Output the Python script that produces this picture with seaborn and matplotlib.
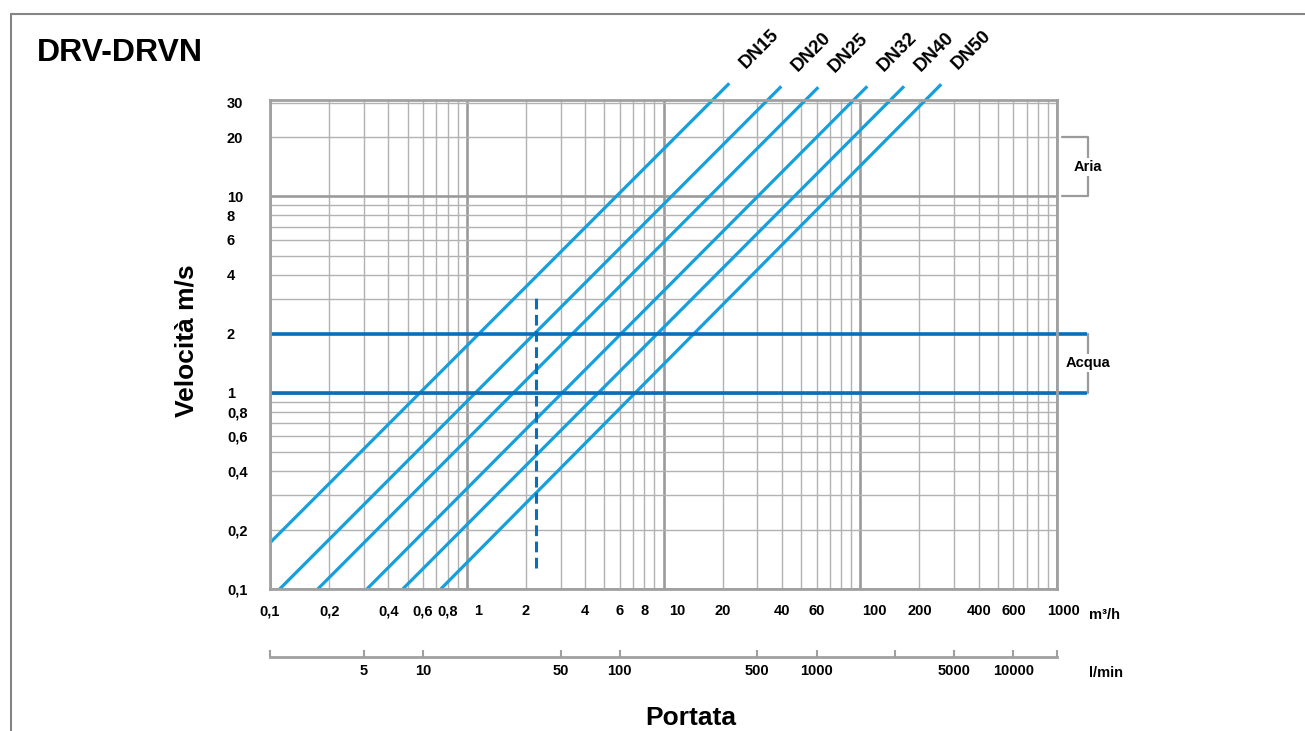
import pandas as pd
import seaborn as sns
import matplotlib.pyplot as plt
from matplotlib.ticker import FixedLocator, FuncFormatter, NullLocator
from matplotlib.transforms import blended_transform_factory, ScaledTranslation
from matplotlib.lines import Line2D

# pipe lines, endpoints (portata m3/h, velocita m/s)
dn_names = ['DN15', 'DN20', 'DN25', 'DN32', 'DN40', 'DN50']
dn_q_start = [0.1, 0.112, 0.175, 0.311, 0.473, 0.738]
dn_v_start = [0.172, 0.1, 0.1, 0.1, 0.1, 0.1]
dn_q_end = [21.6, 39.7, 61.2, 108.6, 167, 258]
dn_v_end = [37.7, 36.4, 36.0, 36.4, 36.4, 37.3]

# water band (horizontal lines) and air band (bracket only)
water_v = [1, 2]
water_q = [0.1, 1420]
air_v = [10, 20]

# dashed example line
example_q = 2.24
example_v = [0.128, 3.09]

x_tick_vals = [0.1, 0.2, 0.4, 0.6, 0.8, 1, 2, 4, 6, 8, 10, 20, 40, 60, 100, 200, 400, 600, 1000]
x_tick_text = ['0,1', '0,2', '0,4', '0,6', '0,8', '1', '2', '4', '6', '8', '10', '20', '40', '60',
               '100', '200', '400', '600', '1000']
y_tick_vals = [0.1, 0.2, 0.4, 0.6, 0.8, 1, 2, 4, 6, 8, 10, 20, 30]
y_tick_text = ['0,1', '0,2', '0,4', '0,6', '0,8', '1', '2', '4', '6', '8', '10', '20', '30']
lmin_tick_vals = [1000 / 600, 5, 10, 50, 100, 500, 1000, 2500, 5000, 10000, 1000000 / 60]
lmin_tick_text = ['', '5', '10', '50', '100', '500', '1000', '', '5000', '10000', '']

line_blue = '#159fdc'
dark_blue = '#0a6fbb'

sns.set_style('white')
plt.rcParams['font.family'] = ['Liberation Sans', 'DejaVu Sans']
plt.rcParams['font.weight'] = 'bold'
for k in ['text.color', 'axes.labelcolor', 'xtick.color', 'ytick.color']:
    plt.rcParams[k] = 'black'

fig = plt.figure(figsize=(13.05, 7.31), dpi=100)
W, H = 1305, 731
ax = fig.add_axes([270 / W, 1 - 589 / H, 787 / W, 489 / H])
ax.set_xscale('log')
ax.set_yscale('log')
ax.set_xlim(0.1, 1000)
ax.set_ylim(0.1, 31)

# grid: decades thick, the rest thin
x_minor = [m * 10.0 ** e for e in range(-1, 3) for m in range(2, 10)]
y_minor = [m * 10.0 ** e for e in range(-1, 2) for m in range(2, 10) if m * 10.0 ** e < 31]
ax.xaxis.set_major_locator(FixedLocator([0.1, 1, 10, 100, 1000]))
ax.xaxis.set_minor_locator(FixedLocator(x_minor))
ax.yaxis.set_major_locator(FixedLocator([0.1, 1, 10]))
ax.yaxis.set_minor_locator(FixedLocator(y_minor))

xmap = {round(v, 4): t for v, t in zip(x_tick_vals, x_tick_text)}
ymap = {round(v, 4): t for v, t in zip(y_tick_vals, y_tick_text)}
xfmt = FuncFormatter(lambda v, pos: xmap.get(round(v, 4), ''))
yfmt = FuncFormatter(lambda v, pos: ymap.get(round(v, 4), ''))
ax.xaxis.set_major_formatter(xfmt)
ax.xaxis.set_minor_formatter(xfmt)
ax.yaxis.set_major_formatter(yfmt)
ax.yaxis.set_minor_formatter(yfmt)

ax.grid(True, which='major', color='#9a9a9a', lw=1.9)
ax.grid(True, which='minor', color='#b2b2b2', lw=1.0)
ax.set_axisbelow(True)
for s in ax.spines.values():
    s.set_color('#a0a0a0')
    s.set_linewidth(2)

ax.tick_params(axis='x', which='both', length=0, labelsize=10.5, pad=11, labelcolor='black')
ax.tick_params(axis='y', which='both', length=3, width=1, color='#a8a8a8', labelsize=10.5,
               pad=28, labelcolor='black')
for lbl in ax.get_yticklabels(which='both'):
    lbl.set_horizontalalignment('left')

# decade labels sit a little right of their grid line in the original
for tick, dx in zip(ax.xaxis.get_major_ticks()[1:], [8, 10, 10, 5]):
    shift = ScaledTranslation(dx / 72, 0, fig.dpi_scale_trans)
    tick.label1.set_transform(tick.label1.get_transform() + shift)

# DN lines
df = pd.DataFrame({
    'DN': dn_names + dn_names,
    'Q': dn_q_start + dn_q_end,
    'v': dn_v_start + dn_v_end,
})
sns.lineplot(data=df, x='Q', y='v', hue='DN', palette=[line_blue] * len(dn_names),
             estimator=None, sort=False, legend=False, lw=2.3, ax=ax)
for ln in ax.get_lines():
    ln.set_clip_on(False)
    ln.set_solid_capstyle('butt')
ax.set_xlabel('')
ax.set_ylabel('')

for name, q, v in zip(dn_names, dn_q_end, dn_v_end):
    ax.annotate(name, (q, v), xytext=(12, 10), textcoords='offset points',
                rotation=45, rotation_mode='anchor', ha='left', va='baseline',
                fontsize=13.5, annotation_clip=False)

# water lines and example line
for v in water_v:
    ax.plot(water_q, [v, v], color=dark_blue, lw=2.6, clip_on=False, solid_capstyle='butt')
ax.plot([example_q, example_q], example_v, color=dark_blue, lw=2.2, dashes=(3.5, 1.8))

# brackets Aria / Acqua
tr = blended_transform_factory(ax.transAxes, ax.transData)
ax.plot([1.006, 1.039, 1.039, 1.006], [air_v[1], air_v[1], air_v[0], air_v[0]],
        transform=tr, color='#9a9a9a', lw=1.6, clip_on=False)
ax.text(1.039, (air_v[0] * air_v[1]) ** 0.5, 'Aria', transform=tr, ha='center', va='center',
        fontsize=10.5, bbox=dict(fc='white', ec='none', pad=1.5))
ax.plot([1.039, 1.039], water_v, transform=tr, color='#9a9a9a', lw=1.6, clip_on=False)
ax.text(1.039, (water_v[0] * water_v[1]) ** 0.5, 'Acqua', transform=tr, ha='center', va='center',
        fontsize=10.5, bbox=dict(fc='white', ec='none', pad=1.5))

# second scale in l/min
sec = ax.secondary_xaxis(-0.139, functions=(lambda q: q * 1000 / 60, lambda l: l * 60 / 1000))
sec.set_xticks(lmin_tick_vals)
sec.set_xticklabels(lmin_tick_text)
sec.xaxis.set_minor_locator(NullLocator())
sec.tick_params(axis='x', direction='in', length=5, width=1.5, color='#a0a0a0',
                labelsize=10.5, pad=5, labelcolor='black')
sec.spines['bottom'].set_color('#a0a0a0')
sec.spines['bottom'].set_linewidth(2)

# texts
fig.text(37 / W, 1 - 53 / H, 'DRV-DRVN', fontsize=23, ha='left', va='center')
fig.text(187 / W, 1 - 341 / H, 'Velocità m/s', fontsize=19, rotation=90, ha='center', va='center')
fig.text(691 / W, 1 - 725 / H, 'Portata', fontsize=19, ha='center', va='baseline')
fig.text(1089 / W, 1 - 615 / H, 'm³/h', fontsize=10.5, ha='left', va='center')
fig.text(1089 / W, 1 - 673 / H, 'l/min', fontsize=10.5, ha='left', va='center')

# outer frame
fig.add_artist(Line2D([11 / W, 1], [1 - 14 / H] * 2, color='#858585', lw=1.5, transform=fig.transFigure))
fig.add_artist(Line2D([11 / W] * 2, [0, 1 - 14 / H], color='#858585', lw=1.5, transform=fig.transFigure))

fig.savefig('out.png', dpi=100)
